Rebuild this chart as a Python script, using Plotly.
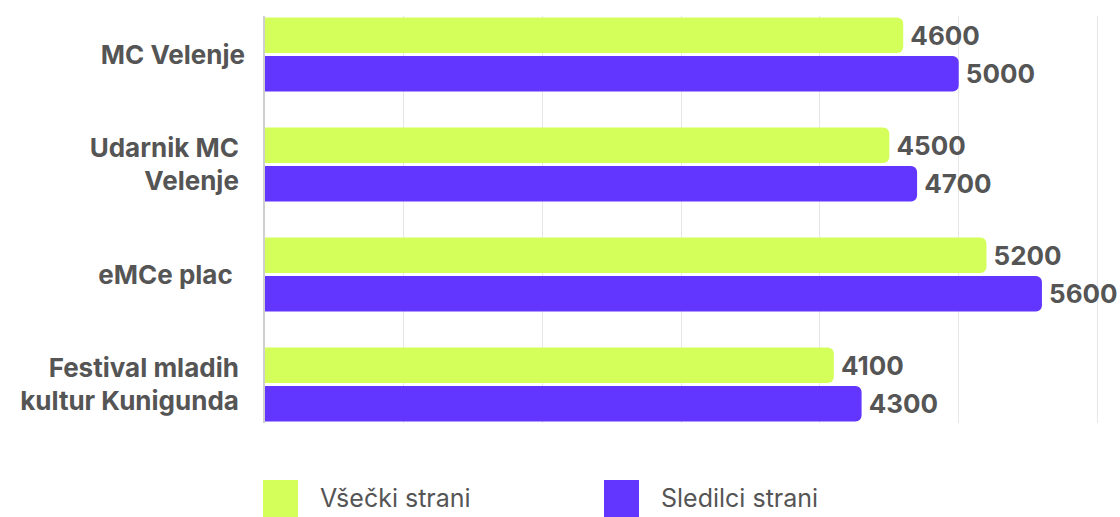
import plotly.graph_objects as go

categories = [
    "MC Velenje",
    "Udarnik MC\u00a0<br>Velenje\u00a0",
    "eMCe plac\u00a0\u00a0",
    "Festival mladih\u00a0<br>kultur Kunigunda\u00a0",
]
likes = [4600, 4500, 5200, 4100]
followers = [5000, 4700, 5600, 4300]
series_names = ["Všečki strani", "Sledilci strani"]
x_ticks = [0, 1000, 2000, 3000, 4000, 5000, 6000]

GREEN = "#D4FF5A"
PURPLE = "#6236FF"
TXT = "#555555"
FONT = "Inter"
GRID = "#E6E6E6"

fig = go.Figure()
for name, vals, col in [(series_names[0], likes, GREEN), (series_names[1], followers, PURPLE)]:
    fig.add_trace(go.Bar(
        y=categories, x=vals, orientation="h", name=name,
        marker=dict(color=col, cornerradius=6, line=dict(width=0)),
        text=["\u2009" + str(v) for v in vals], textposition="outside",
        textfont=dict(family=FONT, size=26, color=TXT, weight="bold"),
        cliponaxis=False, showlegend=False,
    ))

fig.update_layout(
    width=1120, height=517,
    margin=dict(l=265, r=22, t=16, b=94),
    paper_bgcolor="white", plot_bgcolor="white",
    barmode="group", bargap=0.3, bargroupgap=0.08,
    font=dict(family=FONT, color=TXT),
    xaxis=dict(range=[0, 6004], tickvals=x_ticks, showticklabels=False,
               showgrid=True, gridcolor=GRID, gridwidth=1, zeroline=False,
               fixedrange=True),
    yaxis=dict(range=[3.35, -0.35], showline=True, linecolor="#CFCFCF", linewidth=1.5,
               ticks="", ticklabelstandoff=13,
               tickfont=dict(family=FONT, size=26, color=TXT, weight="bold")),
)

# last gridline at the right edge of the range (plotly omits it at the edge)
fig.add_shape(type="line", xref="x", yref="paper", x0=x_ticks[-1], x1=x_ticks[-1],
              y0=0, y1=1, line=dict(color=GRID, width=1), layer="below")

# custom legend (large squares like the original)
legend_items = [(series_names[0], GREEN, 263), (series_names[1], PURPLE, 604)]
for name, col, x0 in legend_items:
    fig.add_shape(type="rect", xref="paper", yref="paper",
                  x0=(x0 - 265) / 833, x1=(x0 + 35 - 265) / 833,
                  y0=-(480 - 423) / 407, y1=-(530 - 423) / 407,
                  fillcolor=col, line=dict(width=0), layer="above")
    fig.add_annotation(text=name, xref="paper", yref="paper",
                       x=(x0 + 55 - 265) / 833, y=-(498 - 423) / 407,
                       xanchor="left", yanchor="middle", showarrow=False,
                       font=dict(family=FONT, size=25, color=TXT))

fig.write_html("out.html", config={"displayModeBar": False},
               post_script="document.body.style.margin='0';")
